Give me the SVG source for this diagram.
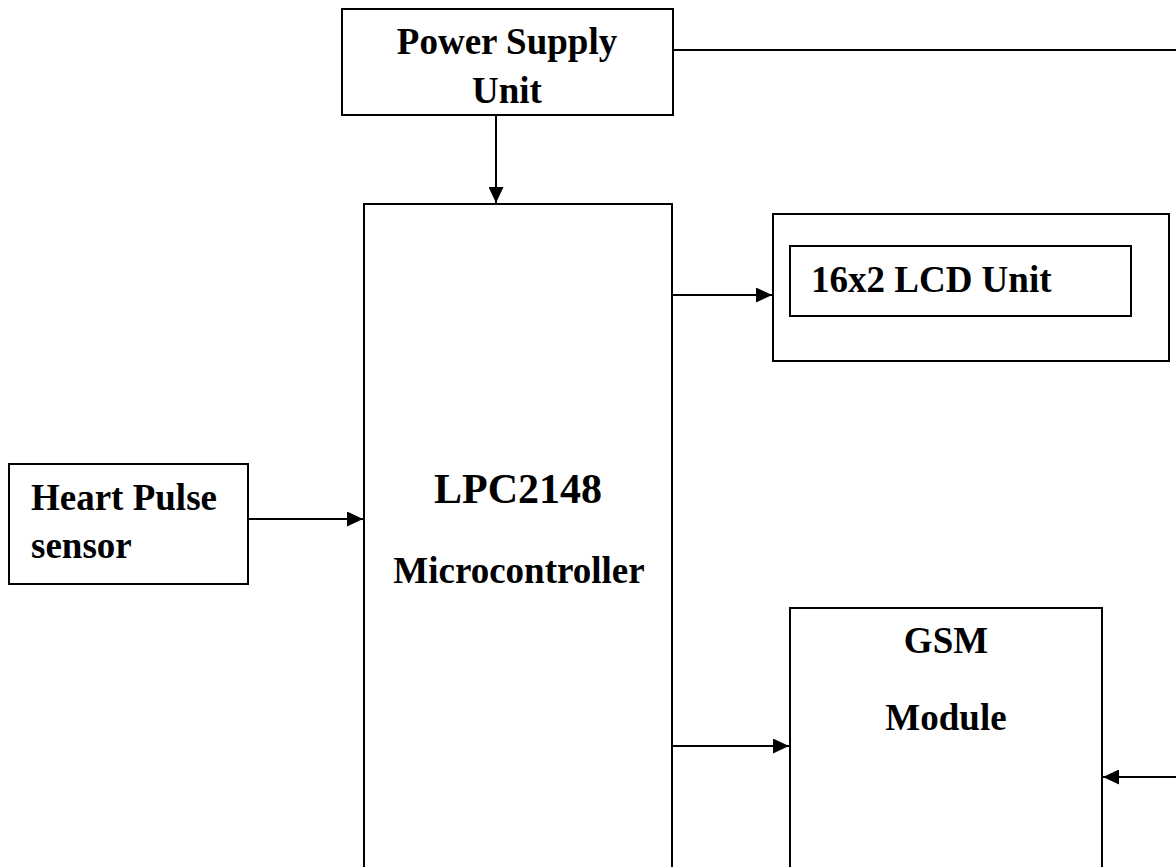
<svg xmlns="http://www.w3.org/2000/svg" width="1176" height="867" viewBox="0 0 1176 867">
<style>
.box{fill:#fff;stroke:#000;stroke-width:2}
.t{font-family:"Liberation Serif","Times New Roman",serif;font-weight:bold;font-size:37px;fill:#000}
.c{text-anchor:middle}
.ln{stroke:#000;stroke-width:2;fill:none}
</style>
<defs>
<marker id="ah" viewBox="0 0 16 15" refX="16" refY="7.5" markerWidth="16" markerHeight="15" markerUnits="userSpaceOnUse" orient="auto">
<path d="M0,0 L16,7.5 L0,15 Z" fill="#000"/>
</marker>
</defs>
<rect width="1176" height="867" fill="#fff"/>
<g id="power">
<rect class="box" x="342" y="9" width="331" height="106"/>
<text class="t c" x="507" y="54">Power Supply</text>
<text class="t c" x="507" y="103">Unit</text>
</g>
<g id="mcu">
<rect class="box" x="364" y="204" width="308" height="700"/>
<text class="t c" x="518" y="503" style="font-size:42px">LPC2148</text>
<text class="t c" x="519" y="583">Microcontroller</text>
</g>
<g id="lcd">
<rect class="box" x="773" y="214" width="396" height="147"/>
<rect class="box" x="790" y="246" width="341" height="70"/>
<text class="t" x="811" y="292">16x2 LCD Unit</text>
</g>
<g id="sensor">
<rect class="box" x="9" y="464" width="239" height="120"/>
<text class="t" x="31" y="510">Heart Pulse</text>
<text class="t" x="31" y="558">sensor</text>
</g>
<g id="gsm">
<rect class="box" x="790" y="608" width="312" height="300"/>
<text class="t c" x="946" y="653">GSM</text>
<text class="t c" x="946" y="730">Module</text>
</g>
<g id="connectors">
<line class="ln" x1="673" y1="50" x2="1176" y2="50"/>
<line class="ln" x1="496" y1="115" x2="496" y2="203" marker-end="url(#ah)"/>
<line class="ln" x1="672" y1="295" x2="772" y2="295" marker-end="url(#ah)"/>
<line class="ln" x1="248" y1="519" x2="363" y2="519" marker-end="url(#ah)"/>
<line class="ln" x1="672" y1="746" x2="789" y2="746" marker-end="url(#ah)"/>
<line class="ln" x1="1176" y1="777" x2="1103" y2="777" marker-end="url(#ah)"/>
</g>
</svg>
